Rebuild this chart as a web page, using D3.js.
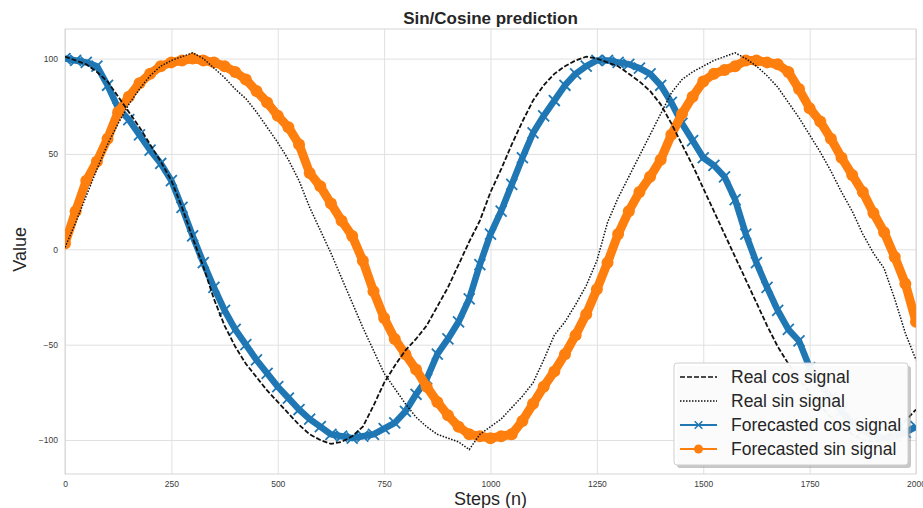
<!DOCTYPE html>
<html>
<head>
<meta charset="utf-8">
<script src="https://cdn.jsdelivr.net/npm/d3@7"></script>
<style>
  body { margin: 0; background: #fff; }
  text { font-family: "Liberation Sans", Arial, sans-serif; }
</style>
</head>
<body>
<div id="chart"></div>
<script>

// sample positions (steps)
const steps = [0, 25, 50, 75, 100, 125, 150, 175, 200, 225, 250, 275, 300, 325, 350, 375, 400,
  425, 450, 475, 500, 525, 550, 575, 600, 625, 650, 675, 700, 725, 750, 775, 800,
  825, 850, 875, 900, 925, 950, 975, 1000, 1025, 1050, 1075, 1100, 1125, 1150, 1175, 1200,
  1225, 1250, 1275, 1300, 1325, 1350, 1375, 1400, 1425, 1450, 1475, 1500, 1525, 1550, 1575, 1600,
  1625, 1650, 1675, 1700, 1725, 1750, 1775, 1800, 1825, 1850, 1875, 1900, 1925, 1950, 1975, 2000];

const realCos = [101, 99, 97, 93, 88, 80, 72, 64, 55, 46, 36, 22, 6, -9, -26, -40, -51,
  -60, -67, -74, -80, -86, -92, -97, -100, -102, -101, -98, -93, -82, -70, -61, -53,
  -47, -40, -30, -20, -8, 4, 15, 30, 42, 55, 67, 78, 86, 92, 96, 99,
  101, 100, 98, 96, 92, 88, 83, 76, 66, 55, 44, 32, 20, 8, -4, -16,
  -28, -40, -51, -60, -68, -75, -82, -88, -93, -97, -100, -101, -99, -96, -90, -84];

const realSin = [1, 14, 28, 42, 55, 66, 76, 84, 91, 96, 99, 101, 103, 100, 95, 90, 84,
  79, 72, 64, 56, 47, 36, 22, 10, -2, -15, -28, -41, -53, -65, -73, -81,
  -88, -93, -97, -99, -101, -105, -97, -93, -89, -83, -77, -70, -58, -45, -38, -29,
  -19, -6, 14, 27, 38, 49, 60, 71, 82, 89, 93, 96, 99, 101, 103, 100,
  96, 91, 85, 77, 69, 60, 51, 41, 30, 20, 8, -2, -10, -26, -44, -58];

const forecastCos = [100, 99, 98, 96, 86, 74, 68, 60, 52, 45, 36, 22, 7, -7, -20, -32, -42,
  -50, -58, -65, -72, -78, -84, -89, -93, -97, -98, -99, -98, -97, -94, -91, -85,
  -76, -68, -55, -47, -38, -26, -8, 8, 20, 34, 48, 61, 70, 78, 86, 92,
  96, 99, 99, 98, 97, 95, 92, 86, 77, 66, 57, 48, 44, 38, 26, 8,
  -7, -20, -32, -42, -48, -62, -70, -78, -85, -91, -95, -98, -99, -98, -96, -93];

const forecastSin = [3, 20, 36, 46, 58, 72, 80, 87, 92, 96, 98, 99, 100, 99, 98, 96, 93,
  89, 83, 77, 70, 64, 55, 40, 33, 24, 15, 7, -6, -22, -36, -47, -55,
  -63, -72, -80, -87, -93, -97, -98, -99, -98, -97, -90, -81, -72, -64, -55, -45,
  -34, -21, -7, 8, 20, 30, 38, 47, 60, 71, 80, 88, 92, 94, 96, 99,
  99, 98, 97, 93, 84, 74, 67, 58, 48, 39, 30, 19, 9, -4, -18, -38];

const xTicks = [0, 250, 500, 750, 1000, 1250, 1500, 1750, 2000];
const yTicks = [-100, -50, 0, 50, 100];

const legendNames = ["Real cos signal", "Real sin signal", "Forecasted cos signal", "Forecasted sin signal"];

let margin = { top: 29, left: 65, right: 7, bottom: 34 },
    width = 923 - margin.left - margin.right,
    height = 508 - margin.top - margin.bottom;

let svg = d3.select("#chart")
    .append("svg")
    .attr("width", 923)
    .attr("height", 508)
    .style("display", "block");

const g = svg.append("g")
    .attr("transform", "translate(" + margin.left + "," + margin.top + ")");

const x = d3.scaleLinear().domain([0, 2000]).range([0, width]);
const y = d3.scaleLinear().domain([-117.8, 115.5]).range([height, 0]);

// grid + tick labels
const xAxis = g.append("g")
    .attr("transform", "translate(0," + height + ")")
    .call(d3.axisBottom(x).tickValues(xTicks).tickSize(-height).tickPadding(7).tickFormat(d3.format("d")));
const yAxis = g.append("g")
    .call(d3.axisLeft(y).tickValues(yTicks).tickSize(-width).tickPadding(7).tickFormat(d3.format("d")));

[xAxis, yAxis].forEach(a => {
  a.select(".domain").remove();
  a.selectAll(".tick line").attr("stroke", "#e0e0e0").attr("stroke-width", 1);
  a.selectAll(".tick text")
    .attr("fill", "#3a3a3a")
    .style("font-size", "8.5px")
    .style("font-family", "'Liberation Sans', Arial, sans-serif");
});

g.append("rect")
    .attr("width", width)
    .attr("height", height)
    .attr("fill", "none")
    .attr("stroke", "#d6d6d6")
    .attr("stroke-width", 1);

const plot = g.append("g");
plot.append("clipPath").attr("id", "clip")
  .append("rect").attr("width", width).attr("height", height);
const layer = plot.append("g").attr("clip-path", "url(#clip)");

const line = d3.line()
    .x((d, i) => x(steps[i]))
    .y(d => y(d));

// forecasted cos (blue, x markers)
layer.append("path")
    .datum(forecastCos)
    .attr("d", line)
    .attr("fill", "none")
    .attr("stroke", "#1f77b4")
    .attr("stroke-width", 6.5)
    .attr("stroke-linejoin", "round");

const xMark = d3.symbol().type(d3.symbolX).size(80);
layer.append("g")
  .selectAll("path")
  .data(forecastCos)
  .join("path")
    .attr("d", xMark)
    .attr("transform", (d, i) => "translate(" + x(steps[i]) + "," + y(d) + ")")
    .attr("fill", "#1f77b4")
    .attr("stroke", "#1f77b4")
    .attr("stroke-width", 1.8);

// forecasted sin (orange, dots)
layer.append("path")
    .datum(forecastSin)
    .attr("d", line)
    .attr("fill", "none")
    .attr("stroke", "#ff7f0e")
    .attr("stroke-width", 9)
    .attr("stroke-linejoin", "round");

layer.append("g")
  .selectAll("circle")
  .data(forecastSin)
  .join("circle")
    .attr("cx", (d, i) => x(steps[i]))
    .attr("cy", d => y(d))
    .attr("r", 6)
    .attr("fill", "#ff7f0e");

// real signals on top
layer.append("path")
    .datum(realCos)
    .attr("d", line)
    .attr("fill", "none")
    .attr("stroke", "#111")
    .attr("stroke-width", 1.8)
    .attr("stroke-dasharray", "5,2");

layer.append("path")
    .datum(realSin)
    .attr("d", line)
    .attr("fill", "none")
    .attr("stroke", "#111")
    .attr("stroke-width", 1.5)
    .attr("stroke-dasharray", "1.5,1.5");

// title and axis labels
svg.append("text")
    .attr("x", margin.left + width / 2)
    .attr("y", 24)
    .attr("text-anchor", "middle")
    .style("font-size", "17px")
    .style("font-weight", "bold")
    .attr("fill", "#262626")
    .text("Sin/Cosine prediction");

svg.append("text")
    .attr("x", margin.left + width / 2)
    .attr("y", 505)
    .attr("text-anchor", "middle")
    .style("font-size", "18px")
    .attr("fill", "#262626")
    .text("Steps (n)");

svg.append("text")
    .attr("transform", "translate(26," + (margin.top + y(0)) + ") rotate(-90)")
    .attr("text-anchor", "middle")
    .style("font-size", "18px")
    .attr("fill", "#262626")
    .text("Value");

// legend
const lg = svg.append("g").attr("transform", "translate(674,363)");
lg.append("rect")
    .attr("x", 3).attr("y", 3)
    .attr("width", 234).attr("height", 102)
    .attr("rx", 3)
    .attr("fill", "#999").attr("opacity", 0.55);
lg.append("rect")
    .attr("width", 234).attr("height", 102)
    .attr("rx", 3)
    .attr("fill", "#fff").attr("fill-opacity", 0.92)
    .attr("stroke", "#cfcfcf");

const rows = lg.selectAll(".row")
  .data(legendNames)
  .join("g")
    .attr("class", "row")
    .attr("transform", (d, i) => "translate(0," + (14 + i * 24) + ")");

rows.append("line")
    .attr("x1", 6).attr("x2", 43)
    .attr("stroke", (d, i) => i < 2 ? "#111" : (i === 2 ? "#1f77b4" : "#ff7f0e"))
    .attr("stroke-width", (d, i) => i < 2 ? 1.5 : 1.8)
    .attr("stroke-dasharray", (d, i) => i === 0 ? "5,2" : (i === 1 ? "1.5,1.5" : null));

rows.filter((d, i) => i === 2).append("path")
    .attr("d", d3.symbol().type(d3.symbolX).size(40))
    .attr("transform", "translate(24.5,0)")
    .attr("stroke", "#1f77b4").attr("stroke-width", 1.5);
rows.filter((d, i) => i === 3).append("circle")
    .attr("cx", 24.5).attr("r", 4.5)
    .attr("fill", "#ff7f0e");

rows.append("text")
    .attr("x", 57)
    .attr("dy", "0.35em")
    .style("font-size", "17.5px")
    .attr("fill", "#262626")
    .text(d => d);

</script>
</body>
</html>
